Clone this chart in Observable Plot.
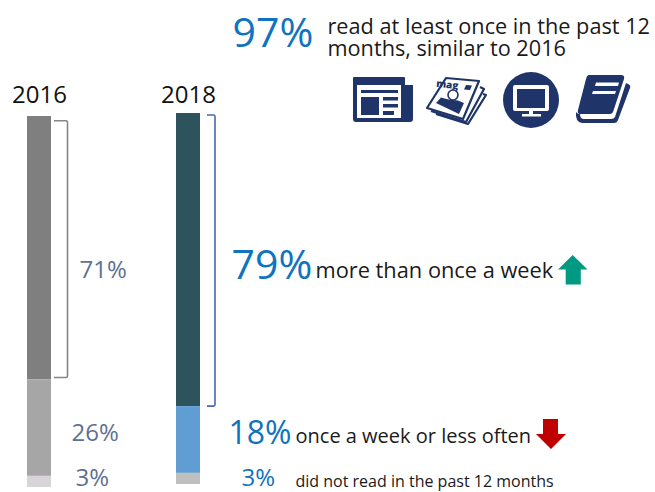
<!DOCTYPE html>
<html>
<head>
<meta charset="utf-8">
<script src="https://cdn.jsdelivr.net/npm/d3@7"></script>
<script src="https://cdn.jsdelivr.net/npm/@observablehq/plot@0.6"></script>
<style>html,body{margin:0;padding:0;background:#fff}svg{display:block}</style>
</head>
<body>
<div id="chart"></div>
<script>
const years = ["2016", "2018"];
const segments = ["more than once a week", "once a week or less often", "did not read"];
const values2016 = [71, 26, 3];
const values2018 = [79, 18, 3];
const colors2016 = ["#7f7f7f", "#a6a6a6", "#d9d3da"];
const colors2018 = ["#2d545c", "#5f9dd3", "#bfbfbf"];

const rows = [
  ...segments.map((s, i) => ({year: years[0], segment: s, value: values2016[i], color: colors2016[i]})),
  ...segments.map((s, i) => ({year: years[1], segment: s, value: values2018[i], color: colors2018[i]}))
];

const W = 655, H = 492, mL = 27, mR = 455, mT = 113, mB = 8;
const BLUE = "#0f73bf", SLATE = "#5f7190", INK = "#1a1a1a", NAVY = "#1f3468";

const note = (text, px, py, fontSize, fill = INK, extra = {}) =>
  Plot.text([text], {frameAnchor: "top-left", dx: px - mL, dy: py - mT, textAnchor: "start", lineAnchor: "middle", fontSize, fill, ...extra});

const stacked = (year, dy) =>
  Plot.barY(rows.filter(d => d.year === year), {x: "year", y: "value", fill: "color", reverse: true, order: null, dy});

const brackets = (index, {x, y}) => {
  const g = d3.create("svg:g").attr("fill", "none").attr("stroke-width", 1.6);
  const bw = x.bandwidth();
  const spec = [
    {year: years[0], share: values2016[0], top: 120.7, bot: 377.5, a: 3, b: 16.5, stroke: "#858585", dy: 3},
    {year: years[1], share: values2018[0], top: 115, bot: null, a: 7, b: 15, stroke: "#4a68ad", dy: 0}
  ];
  for (const s of spec) {
    const x0 = x(s.year) + bw + s.a, x1 = x(s.year) + bw + s.b;
    const yb = s.bot ?? y(100 - s.share) + s.dy;
    g.append("path").attr("stroke", s.stroke)
      .attr("d", `M${x0},${s.top}H${x1 - 1.5}Q${x1},${s.top} ${x1},${s.top + 1.5}V${yb - 1.5}Q${x1},${yb} ${x1 - 1.5},${yb}H${x0}`);
  }
  return g.node();
};

const icons = () => {
  const g = d3.create("svg:g");
  const p = (d, fill = NAVY, extra = {}) => {
    const e = g.append("path").attr("d", d).attr("fill", fill);
    for (const k in extra) e.attr(k, extra[k]);
    return e;
  };
  // newspaper
  p("M354,77H404Q405,77 405,78V85H413V119Q413,122 410,122H356Q353,122 353,119V78Q353,77 354,77Z");
  p("M357,85H401V118H357Z", "#fff");
  p("M361,90H398V93H361ZM361,97H379V115H361ZM383,97H398V100.5H383ZM383,104H398V107.5H383ZM383,111H394V115H383Z");
  // magazine
  const ms = {stroke: NAVY, "stroke-width": 2.2, "stroke-linejoin": "round"};
  p("M446,78L479,81L463,119L427,108Z", "#fff", ms);
  p("M480,87L484,89L466,122L431,111", "none", ms);
  p("M483,94L486,95L468,124L436,114", "none", ms);
  g.append("text").attr("x", 447).attr("y", 88).attr("font-size", 10).attr("font-weight", 800).attr("fill", NAVY)
    .attr("transform", "rotate(6 447 88)").text("mag");
  p("M466,85L472,85.5L470,90L464,89.5Z");
  p("M436,103L441,97.5Q446,99 449,99.5L458,100.5Q462,102 464,103L459,114Z");
  g.append("circle").attr("cx", 453).attr("cy", 95).attr("r", 5).attr("fill", "#fff").attr("stroke", NAVY).attr("stroke-width", 1.6);
  // monitor
  g.append("circle").attr("cx", 531).attr("cy", 100).attr("r", 28).attr("fill", NAVY);
  p("M515,85H547Q549,85 549,87V109Q549,111 547,111H533V114H541V116.5H522V114H529V111H515Q513,111 513,109V87Q513,85 515,85Z", "#fff");
  p("M517,89H545V108H517Z");
  // book
  p("M589,75H621Q625,75 624,79L613,112Q612,114 610,114H580Q577,114 578,110L586,79Q587,75 589,75Z");
  p("M576,112Q575,122 582,123H614Q617,123 618,120L630,88Q631,85 628,84L626,83L615,117Q614,119 611,119H584Q580,119 580,114H578Z");
  p("M596,82.5H619L618,86H595ZM593,91H616L615,94H592Z", "#fff");
  // arrows
  p("M572.7,255L587.5,269.5H580.8V284.5H565.7V269.5H558Z", "#009a82");
  p("M543,419H558V434H566L551,449L536,434H543Z", "#c00000");
  return g.node();
};

const chart = Plot.plot({
  width: W, height: H,
  marginLeft: mL, marginRight: mR, marginTop: mT, marginBottom: mB,
  style: {fontFamily: "'Open Sans', sans-serif", background: "#fff", overflow: "visible"},
  x: {type: "band", domain: years, paddingInner: 125 / 149, paddingOuter: 0, axis: null},
  y: {domain: [0, 100], axis: null},
  marks: [
    stacked(years[0], 3),
    stacked(years[1], 0),
    Plot.axisX({anchor: "top", tickSize: 0, tickPadding: 11, fontSize: 24, color: "#111", label: null}),
    brackets,
    icons,
    note("97%", 232, 33, 41, BLUE),
    note("read at least once in the past 12\nmonths, similar to 2016", 327, 37, 21.7, INK, {lineHeight: 1.02}),
    note("71%", 79, 270, 24, SLATE),
    note("79%", 231, 265, 41, BLUE),
    note("more than once a week", 315, 271, 21.8),
    note("26%", 71, 433, 24, SLATE),
    note("18%", 228, 433, 32, BLUE),
    note("once a week or less often", 295, 436, 20),
    note("3%", 75, 478, 24, SLATE),
    note("3%", 241, 478, 24, BLUE),
    note("did not read in the past 12 months", 295, 481, 16)
  ]
});
document.getElementById("chart").append(chart);
</script>
</body>
</html>
